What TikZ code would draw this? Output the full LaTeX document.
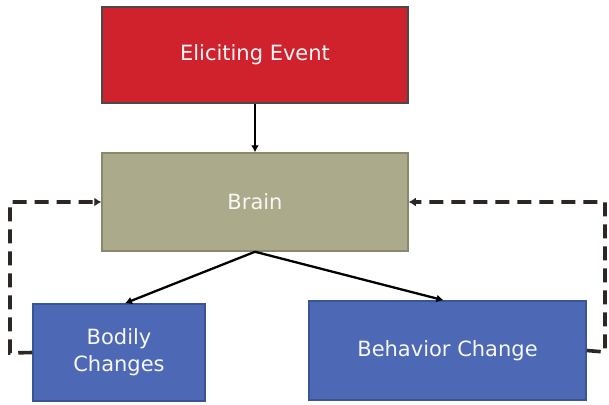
\documentclass[tikz,border=0pt]{standalone}
\usepackage{fontspec}
\setmainfont{DejaVu Sans}
\usetikzlibrary{arrows.meta,calc}
\definecolor{eventred}{HTML}{D0222D}
\definecolor{brainkhaki}{HTML}{ABAA8A}
\definecolor{changeblue}{HTML}{4D68B5}
\definecolor{boxedge}{HTML}{4A4A4A}
\definecolor{blueedge}{HTML}{3A5596}
\definecolor{loopdark}{HTML}{2E2622}
\begin{document}
\begin{tikzpicture}[x=1pt,y=-1pt,
  stagebox/.style={draw, line width=1.5pt, text=white!94!gray, align=center,
    font=\fontsize{21}{27}\selectfont, inner sep=0pt},
  flow/.style={draw=black, line width=2.3pt, -{Latex[length=7pt,width=8pt]}},
  feedback/.style={draw=loopdark, line width=3.6pt, dash pattern=on 14pt off 8pt,
    -{Latex[length=7pt,width=9pt]}}]
  \useasboundingbox (0,0) rectangle (609,404);
  \fill[white] (0,0) rectangle (609,404);
  % the four stages
  \node[stagebox, fill=eventred, draw=boxedge, minimum width=306pt, minimum height=96pt]
    (event) at (255,55) {Eliciting Event};
  \node[stagebox, fill=brainkhaki, draw=brainkhaki!80!black, minimum width=306pt, minimum height=98pt]
    (brain) at (255,202) {Brain};
  \node[stagebox, fill=changeblue, draw=blueedge, minimum width=172pt, minimum height=97pt]
    (bodily) at (119,352.5) {Bodily\\Changes};
  \node[stagebox, fill=changeblue, draw=blueedge, minimum width=277pt, minimum height=99pt]
    (behavior) at (447.5,350.5) {Behavior Change};
  % forward arrows
  \draw[flow] (event.south) -- (brain.north);
  \draw[flow] (brain.south) -- ($(bodily.north)+(6,0)$);
  \draw[flow] (brain.south) -- ($(behavior.north)+(-4,0)$);
  % feedback loops back to the brain
  \coordinate (lcorner) at (10,353);
  \coordinate (rcorner) at (605,352);
  \draw[feedback] (bodily.west) -- (lcorner) |- (brain.west);
  \draw[feedback] (behavior.east) -- (rcorner) |- (brain.east);
\end{tikzpicture}
\end{document}
